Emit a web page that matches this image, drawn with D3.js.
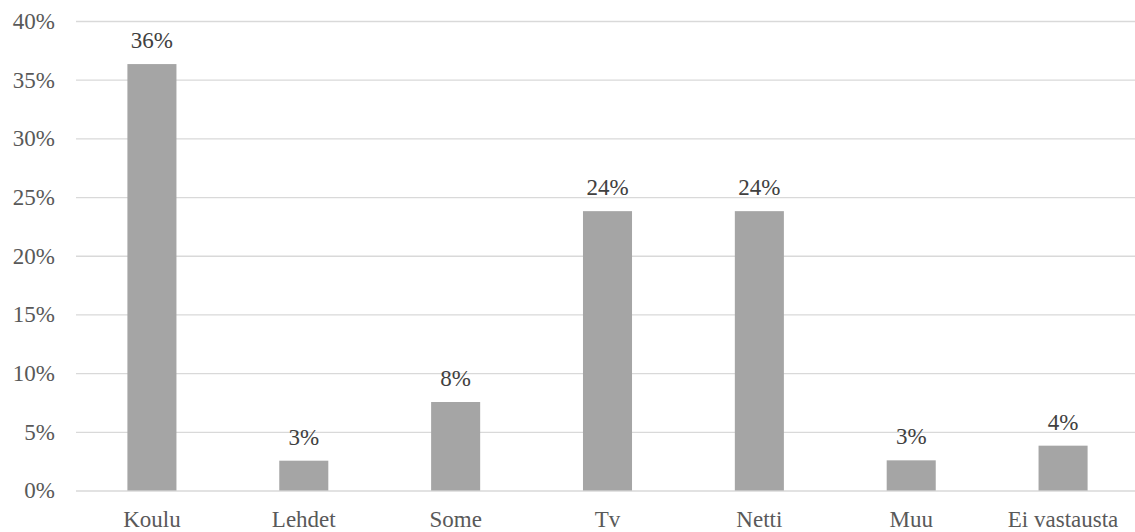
<!DOCTYPE html>
<html>
<head>
<meta charset="utf-8">
<script src="https://cdn.jsdelivr.net/npm/d3@7"></script>
<style>
  body { margin: 0; background: #fff; }
</style>
</head>
<body>
<div class="chart"></div>
<script>
const categories = ["Koulu", "Lehdet", "Some", "Tv", "Netti", "Muu", "Ei vastausta"];
const values = [0.3633, 0.0254, 0.0754, 0.238, 0.238, 0.0257, 0.0382];
const yTicks = [0, 0.05, 0.1, 0.15, 0.2, 0.25, 0.3, 0.35, 0.4];

const totalWidth = 1135;
const totalHeight = 532;
const margin = { top: 21, left: 76, right: -4, bottom: 41.5 };
const width = totalWidth - margin.left - margin.right,
  height = totalHeight - margin.top - margin.bottom;

const fontFamily = "Liberation Serif";
const fontSize = 23;

const svg = d3
  .select(".chart")
  .append("svg")
  .attr("width", totalWidth)
  .attr("height", totalHeight)
  .attr("font-family", fontFamily)
  .attr("font-size", fontSize);

const g = svg.append("g").attr("transform", `translate(${margin.left}, ${margin.top})`);

const xScale = d3
  .scaleBand()
  .domain(categories)
  .range([0, width])
  .paddingInner(0.677)
  .paddingOuter(0.677 / 2);

const yScale = d3.scaleLinear().domain([0, 0.4]).range([height, 0]);

const pct = d3.format(".0%");

// gridlines + y labels
const yAxis = d3.axisLeft(yScale).tickValues(yTicks).tickFormat(pct).tickSize(-width).tickPadding(21);
const yAxisGroup = g
  .append("g")
  .call(yAxis)
  .attr("font-family", fontFamily)
  .attr("font-size", fontSize);
yAxisGroup.select(".domain").remove();
yAxisGroup.selectAll(".tick line").attr("stroke", "#d9d9d9").attr("stroke-width", 1.3);
yAxisGroup.selectAll(".tick text").attr("fill", "#595959");

// x labels
const xAxis = d3.axisBottom(xScale).tickSize(0).tickPadding(20);
const xAxisGroup = g
  .append("g")
  .attr("transform", `translate(0, ${height})`)
  .call(xAxis)
  .attr("font-family", fontFamily)
  .attr("font-size", fontSize);
xAxisGroup.select(".domain").remove();
xAxisGroup.selectAll(".tick text").attr("fill", "#595959");

// bars
g.selectAll("rect.bar")
  .data(categories)
  .enter()
  .append("rect")
  .attr("class", "bar")
  .attr("x", (d) => xScale(d))
  .attr("width", xScale.bandwidth())
  .attr("y", (d, i) => yScale(values[i]))
  .attr("height", (d, i) => height - yScale(values[i]))
  .attr("fill", "#a5a5a5");

// value labels
g.selectAll("text.value")
  .data(categories)
  .enter()
  .append("text")
  .attr("class", "value")
  .attr("x", (d) => xScale(d) + xScale.bandwidth() / 2)
  .attr("y", (d, i) => yScale(values[i]) - 16)
  .attr("text-anchor", "middle")
  .attr("fill", "#404040")
  .text((d, i) => pct(values[i]));
</script>
</body>
</html>
